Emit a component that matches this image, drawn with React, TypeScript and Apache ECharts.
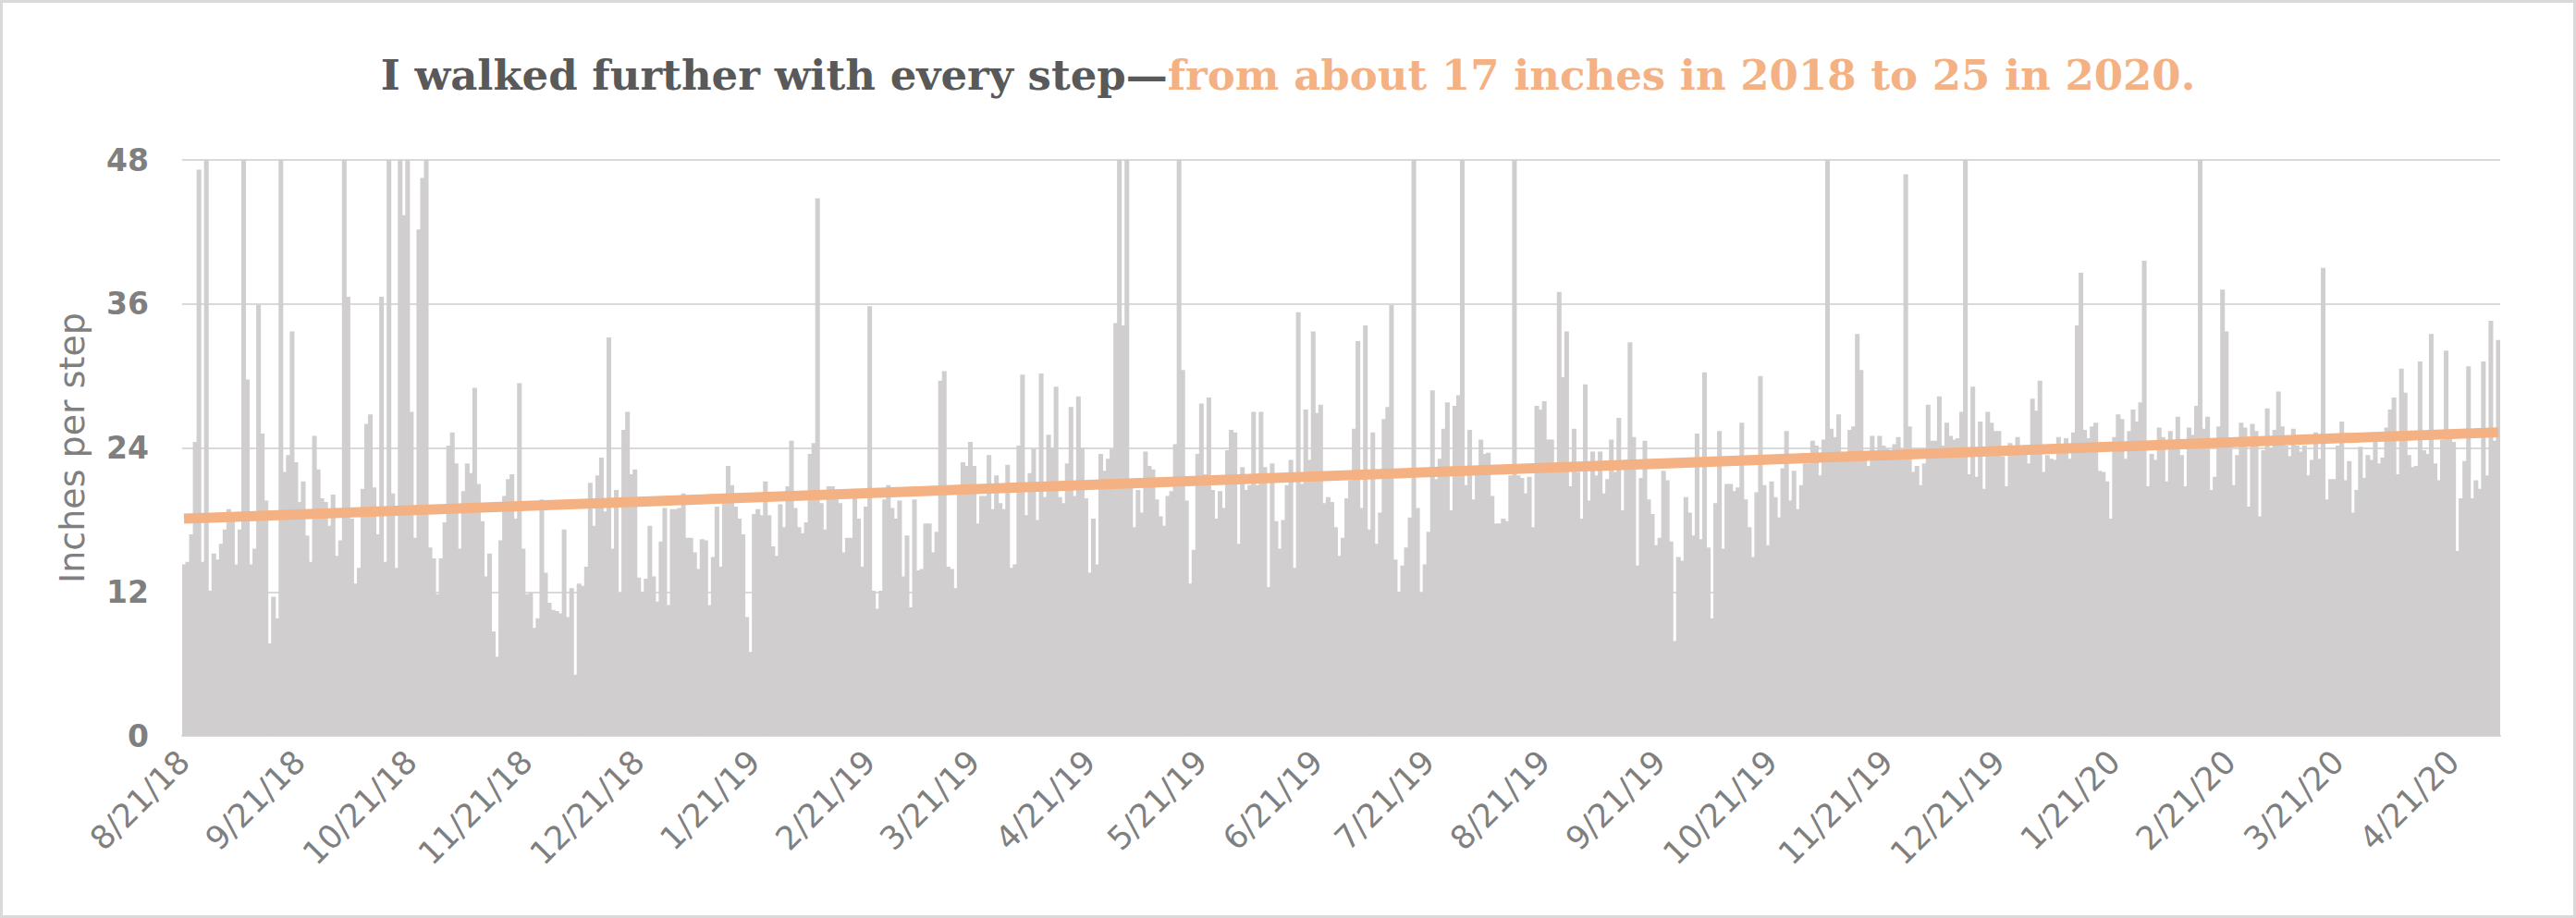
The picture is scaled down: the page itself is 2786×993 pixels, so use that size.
import React, { useEffect, useRef } from "react";
import * as echarts from "echarts";

// ---- Data (inches per step, one value per day, starting 8/21/18) ----
const startDateUTC = Date.UTC(2018, 7, 21);

const aug2018 = [14.3, 14.5, 16.8, 24.5, 47.2, 14.5, 48, 12.1, 15.2, 14.7, 16];
const sep2018 = [17.2, 18.9, 18.6, 14.3, 17.2, 48, 29.7, 14.3, 15.6, 35.9, 25.2, 19.6, 7.7, 11.6, 9.8, 48, 22, 23.4, 33.7, 22.8, 19.5, 21.2, 16.7, 14.5, 25, 22.2, 19.8, 19.5, 17.5, 20.1];
const oct2018 = [15, 16.3, 48, 36.6, 18.1, 12.7, 14, 20.6, 26, 26.8, 20.7, 16.8, 36.6, 14.5, 48, 20.2, 14, 48, 43.4, 48, 27, 16.5, 42.2, 46.5, 48, 15.7, 14.8, 11.8, 14.8, 17.8, 24.2];
const nov2018 = [25.3, 22.7, 15.6, 20.4, 22.7, 21.9, 29, 21, 17.9, 13.3, 15.2, 8.7, 6.6, 16.3, 20, 21.4, 21.8, 18.1, 29.4, 15.6, 11.8, 11.9, 9, 9.8, 19.7, 13.6, 11.1, 10.5, 10.4, 10.2];
const dec2018 = [17.2, 9.9, 12.3, 5.1, 12.7, 12.5, 14.1, 21.1, 17.5, 21.7, 23.2, 18.7, 33.2, 15.6, 20.5, 11.9, 25.5, 27, 21.8, 22.2, 13.2, 12, 13.1, 17.5, 13.3, 11.2, 16.2, 19, 10.9, 18.9, 18.9];
const jan2019 = [19, 20.2, 16.5, 16.5, 15.3, 13.9, 16.4, 16.3, 10.9, 14.9, 19.1, 14.1, 20.1, 22.5, 20.9, 19.1, 18.1, 16.8, 9.9, 7, 18.5, 18.9, 18.4, 21.2, 18.4, 15.8, 15, 19.3, 17.4, 20.8, 24.6];
const feb2019 = [19, 17.4, 16.9, 17.8, 23.5, 24.4, 44.8, 19.4, 17.2, 20.8, 20.8, 20.5, 19.4, 15.3, 16.5, 16.5, 20.6, 18.1, 14.1, 19.1, 35.8, 12.1, 10.6, 12.1, 19.7, 20.9, 19, 18.1];
const mar2019 = [19.6, 13.3, 16.7, 10.7, 19.7, 13.8, 13.9, 17.7, 17.7, 15.3, 17, 29.6, 30.4, 14.1, 13.9, 12.3, 20.3, 22.8, 22.5, 24.5, 22.5, 17.7, 20, 20, 23.4, 18.9, 21.7, 19.4, 18.9, 22.6, 14];
const apr2019 = [14.3, 24.2, 30.1, 18.4, 21.9, 23.9, 18, 30.2, 19.9, 25.1, 24, 29.1, 19.9, 19.4, 22.7, 27.4, 20, 28.3, 24, 19.8, 13.6, 18.1, 14.3, 23.5, 22.1, 23.1, 23.9, 34.4, 48, 34.2];
const may2019 = [48, 21.1, 17.4, 20.5, 18.6, 23.7, 22.5, 22.2, 19.7, 18.3, 17.5, 20, 20.4, 24.3, 48, 30.5, 19.6, 12.7, 15.5, 23.5, 27.7, 21.8, 28.2, 20.5, 18.1, 20.4, 19, 23.8, 25.5, 25.3, 16];
const jun2019 = [22.4, 20.5, 20.9, 27, 20.9, 27, 22.4, 12.4, 22.7, 17.9, 15.6, 18, 20.9, 23, 14, 35.3, 21, 27.2, 23, 33.7, 26.9, 27.6, 19.4, 19.9, 19.5, 17.4, 15, 16.5, 19.8, 21.3];
const jul2019 = [25.6, 32.9, 19, 34.2, 17.2, 25.3, 16, 18.6, 26.4, 27.4, 35.9, 14.7, 12, 14.2, 15.7, 18.2, 48, 19, 11.9, 14.3, 17, 28.8, 21.4, 23.1, 25.6, 27.8, 18.8, 27.5, 28.4, 48, 20.9];
const aug2019 = [25.5, 19.7, 21.8, 24.7, 23.5, 23.6, 20, 17.7, 17.7, 18.1, 17.9, 21.7, 48, 21.7, 21.5, 20.2, 21.6, 17.4, 27.5, 27.2, 27.9, 24.7, 24.7, 22.2, 37, 29.9, 33.7, 20.8, 25.6, 22, 18.1];
const sep2019 = [29.3, 19.6, 23.7, 21.7, 23.7, 20.2, 21.4, 24.7, 22, 26.5, 18.8, 23, 32.8, 24.9, 14.2, 21.5, 24.6, 19.7, 18.5, 15.9, 16.5, 22.1, 21.3, 16.2, 7.9, 14.9, 14.6, 19.9, 18.6, 16.7];
const oct2019 = [25.2, 16.4, 30.3, 15.7, 9.8, 19.4, 25.4, 15.6, 21, 21, 20.4, 20.7, 26.1, 19.7, 17.4, 14.9, 20.3, 30, 20.9, 15.9, 21.2, 19.9, 18.2, 22.3, 25.4, 19.6, 22.1, 18.9, 20.9, 22.7, 22.7];
const nov2019 = [24.6, 24.2, 21.7, 24.7, 48, 25.6, 24.9, 26.8, 23, 23.1, 25.5, 25.8, 33.5, 30.5, 23, 22.5, 25, 23, 25, 24.2, 23.9, 23.6, 24.3, 24.9, 23.9, 46.8, 25.8, 22, 22.5, 20.9];
const dec2019 = [22.7, 27.6, 24.6, 24.6, 28.3, 24.2, 26.1, 25, 24.7, 24.8, 27, 48, 21.8, 29.1, 21.6, 26.2, 20.6, 27, 26.1, 25.4, 25.4, 23.3, 20.8, 24.4, 23.6, 24.9, 23.6, 23.7, 22.7, 28.1, 27.1];
const jan2020 = [29.6, 22, 23.4, 23.1, 23, 24.9, 24.2, 24.8, 23.1, 25.3, 34.2, 38.6, 25.5, 24.8, 25.8, 26.1, 22.1, 22, 21.2, 18.1, 24.9, 26.8, 26.4, 23.1, 25.4, 27.2, 26.2, 27.8, 39.6, 20.8, 23.5];
const feb2020 = [23, 25.7, 24.9, 21.2, 25.4, 24.2, 26.6, 23.4, 20.8, 25.7, 25.1, 27.5, 48, 25.6, 26.6, 20.5, 21.6, 25.8, 37.2, 33.7, 24.2, 20.9, 23.4, 26.1, 25.7, 19.1, 26, 25.4, 18.3];
const mar2020 = [23.8, 27.3, 24, 25.5, 28.7, 25.8, 24.2, 23.3, 25.6, 24.2, 23.7, 24.2, 21.7, 23, 25.3, 23.1, 39, 19.7, 21.4, 21.4, 24.2, 26.2, 21.3, 22.9, 18.6, 20.5, 24.1, 21.5, 23.4, 23, 24.5];
const apr2020 = [22.7, 23.2, 25.7, 27.2, 28.2, 21.8, 30.6, 28.6, 23.4, 22.4, 22.5, 31.2, 23.8, 23.5, 33.5, 22.7, 21.3, 24.7, 32.1, 24.8, 24.5, 15.4, 19.8, 22.9, 30.8, 19.8, 21.3, 20.6, 31.2, 21.7];
const may2020 = [34.6, 24.6, 33];

const monthlyValues = [
  aug2018, sep2018, oct2018, nov2018, dec2018,
  jan2019, feb2019, mar2019, apr2019, may2019, jun2019, jul2019, aug2019, sep2019, oct2019, nov2019, dec2019,
  jan2020, feb2020, mar2020, apr2020, may2020,
];

// linear trendline end points
const trendStart = 18.1;
const trendEnd = 25.3;

const yMin = 0;
const yMax = 48;
const yInterval = 12;
const tickDayOfMonth = 21;

const titleLead = "I walked further with every step\u2014";
const titleHighlight = "from about 17 inches in 2018 to 25 in 2020.";
const yAxisName = "Inches per step";

const inchesPerStep: number[] = ([] as number[]).concat(...monthlyValues);
const dayDates: Date[] = inchesPerStep.map((_, i) => new Date(startDateUTC + i * 86400000));
const dayLabels: string[] = dayDates.map(
  (d) => `${d.getUTCMonth() + 1}/${d.getUTCDate()}/${String(d.getUTCFullYear()).slice(2)}`
);

const GRAY_BAR = "#d0cece";
const ORANGE = "#f4b183";
const TEXT_GRAY = "#7f7f7f";
const GRID_GRAY = "#d9d9d9";

export default function App() {
  const ref = useRef<HTMLDivElement | null>(null);

  useEffect(() => {
    document.body.style.margin = "0";
    if (!ref.current) return;
    const chart = echarts.init(ref.current, undefined, { renderer: "svg" });
    const isTickDay = (index: number) => dayDates[index].getUTCDate() === tickDayOfMonth;
    const last = dayLabels.length - 1;

    chart.setOption({
      animation: false,
      backgroundColor: "#ffffff",
      title: {
        text: `{a|${titleLead}}{b|${titleHighlight}}`,
        left: "center",
        top: 54,
        textStyle: {
          rich: {
            a: { fontFamily: "DejaVu Serif", fontWeight: "bold", fontSize: 45, color: "#595959" },
            b: { fontFamily: "DejaVu Serif", fontWeight: "bold", fontSize: 45, color: ORANGE },
          },
        },
      },
      grid: { left: 197, right: 82, top: 173, bottom: 197 },
      xAxis: {
        type: "category",
        data: dayLabels,
        boundaryGap: true,
        axisLine: { lineStyle: { color: GRID_GRAY, width: 2 } },
        axisTick: { interval: isTickDay, length: 10, lineStyle: { color: GRID_GRAY, width: 2 } },
        axisLabel: {
          interval: isTickDay,
          rotate: 45,
          margin: 22,
          fontFamily: "DejaVu Sans",
          fontSize: 35,
          color: TEXT_GRAY,
        },
        splitLine: { show: false },
      },
      yAxis: {
        type: "value",
        min: yMin,
        max: yMax,
        interval: yInterval,
        name: yAxisName,
        nameLocation: "middle",
        nameGap: 100,
        nameTextStyle: { fontFamily: "DejaVu Sans", fontSize: 38, color: TEXT_GRAY },
        axisLine: { show: false },
        axisTick: { show: false },
        axisLabel: {
          margin: 36,
          fontFamily: "DejaVu Sans",
          fontWeight: "bold",
          fontSize: 33,
          color: TEXT_GRAY,
        },
        splitLine: { lineStyle: { color: GRID_GRAY, width: 2 } },
      },
      series: [
        {
          type: "bar",
          data: inchesPerStep,
          barCategoryGap: "-25%",
          itemStyle: { color: GRAY_BAR },
          clip: true,
          z: 2,
        },
        {
          type: "line",
          data: [
            [dayLabels[0], trendStart],
            [dayLabels[last], trendEnd],
          ],
          symbol: "none",
          lineStyle: { color: ORANGE, width: 11 },
          z: 3,
        },
      ],
      graphic: [
        {
          type: "rect",
          shape: { x: 1.5, y: 1.5, width: 2783, height: 990 },
          style: { fill: "transparent", stroke: GRID_GRAY, lineWidth: 3 },
          silent: true,
          z: 10,
        },
      ],
    });

    return () => {
      chart.dispose();
    };
  }, []);

  return <div ref={ref} style={{ width: 2786, height: 993 }} />;
}
